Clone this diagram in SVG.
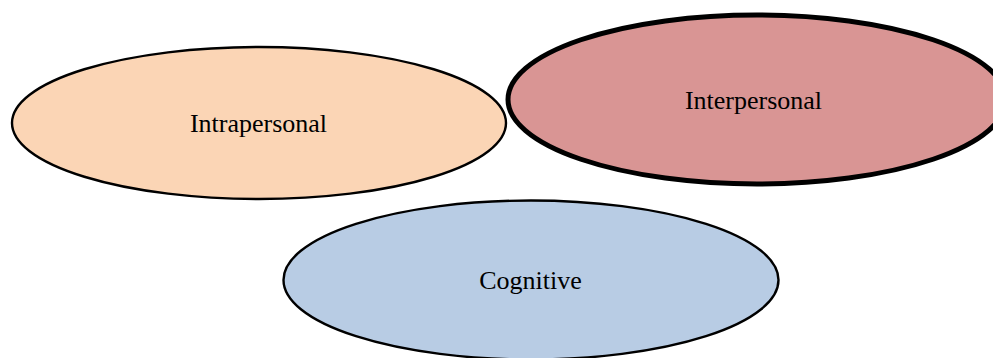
<svg xmlns="http://www.w3.org/2000/svg" width="993" height="358" viewBox="0 0 993 358">
<style>
.lbl{font-family:"Liberation Serif","Times New Roman",serif;font-size:26px;fill:#000;text-anchor:middle}
.e{stroke:#000;stroke-width:2.4}
</style>
<rect width="993" height="358" fill="#fff"/>
<g id="intrapersonal">
<ellipse class="e" cx="259" cy="123" rx="247" ry="76" fill="#FBD5B5"/>
<text class="lbl" x="258.5" y="132">Intrapersonal</text>
</g>
<g id="interpersonal">
<ellipse cx="757" cy="99.5" rx="249" ry="84.5" fill="#D99594" stroke="#000" stroke-width="5"/>
<text class="lbl" x="753.5" y="109">Interpersonal</text>
</g>
<g id="cognitive">
<ellipse class="e" cx="531" cy="280" rx="247.5" ry="79.5" fill="#B8CCE4"/>
<text class="lbl" x="530.5" y="289">Cognitive</text>
</g>
<g id="connectors"/>
</svg>
